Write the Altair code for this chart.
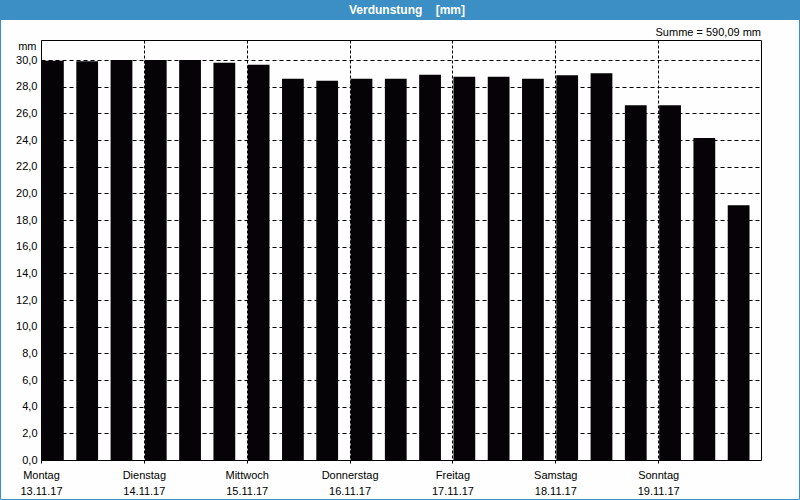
import altair as alt
import pandas as pd

# --- data -------------------------------------------------------------
values = [29.95, 29.9, 30.0, 30.0, 30.0, 29.8, 29.65,
          28.6, 28.45, 28.6, 28.6, 28.9, 28.75, 28.75,
          28.6, 28.85, 29.0, 26.6, 26.6, 24.15, 19.1]
day_names = ["Montag", "Dienstag", "Mittwoch", "Donnerstag",
             "Freitag", "Samstag", "Sonntag"]
day_dates = ["13.11.17", "14.11.17", "15.11.17", "16.11.17",
             "17.11.17", "18.11.17", "19.11.17"]
title_text = "Verdunstung\u00a0\u00a0\u00a0\u00a0[mm]"
sum_text = "Summe = 590,09 mm"
y_ticks = list(range(0, 31, 2))
day_ticks = [3 * k for k in range(len(day_names))]

df = pd.DataFrame({"slot": list(range(len(values))), "v": values})

W, H = 720, 420
PL, PT, PR, PB = 41, 40, 39, 40
FONT = "Liberation Sans"
BLUE = "#3c8fc4"

names_js = "[" + ",".join("'%s'" % d for d in day_names) + "]"
dates_js = "[" + ",".join("'%s'" % d for d in day_dates) + "]"
x_label_expr = "[%s[datum.value/3], %s[datum.value/3]]" % (names_js, dates_js)

bars = alt.Chart(df).transform_calculate(
    x0="datum.slot + 0.03", x1="datum.slot + 0.665"
).mark_rect(color="#050305").encode(
    x=alt.X("x0:Q",
            scale=alt.Scale(domain=[0, len(values)], nice=False, zero=False),
            axis=alt.Axis(values=day_ticks, title=None, grid=True,
                          gridDash=[3, 2], gridColor="black", gridOpacity=1,
                          tickSize=3, tickColor="black", domain=False,
                          labelExpr=x_label_expr, labelFlush=False,
                          labelOverlap=False, labelBound=False,
                          labelFont=FONT, labelFontSize=11, labelColor="black",
                          labelLineHeight=16, labelPadding=6,
                          labelBaseline="top")),
    x2="x1:Q",
    y=alt.Y("v:Q",
            scale=alt.Scale(domain=[0, 31.5], nice=False),
            axis=alt.Axis(values=y_ticks, title="mm", titleAngle=0,
                          titleAlign="right", titleBaseline="middle",
                          titleX=-5, titleY=6, titleFont=FONT,
                          titleFontSize=11, titleFontWeight="normal",
                          titleColor="black",
                          grid=True, gridDash=[4, 3], gridColor="black",
                          gridOpacity=1, ticks=False, domain=False,
                          labelExpr="replace(format(datum.value, '.1f'), '.', ',')",
                          labelFont=FONT, labelFontSize=11, labelColor="black",
                          labelPadding=4)),
    y2=alt.datum(0),
)

dummy = alt.Data(values=[{}])

title_bar = alt.Chart(dummy).mark_rect(color=BLUE).encode(
    x=alt.value(-PL), x2=alt.value(W + PR),
    y=alt.value(-PT), y2=alt.value(-PT + 20),
)
title = alt.Chart(dummy).mark_text(
    text=title_text, color="white", font=FONT, fontSize=12,
    fontWeight="bold", align="center", baseline="middle",
).encode(x=alt.value(407 - PL), y=alt.value(-PT + 10))

summe = alt.Chart(dummy).mark_text(
    text=sum_text, color="black", font=FONT, fontSize=11,
    align="right", baseline="middle",
).encode(x=alt.value(W), y=alt.value(-7))

border = alt.Chart(dummy).mark_rect(
    fill=None, stroke=BLUE, strokeWidth=1, fillOpacity=0
).encode(
    x=alt.value(-PL + 0.5), x2=alt.value(W + PR - 0.5),
    y=alt.value(-PT + 0.5), y2=alt.value(H + PB - 0.5),
)

chart = alt.layer(title_bar, title, summe, border, bars).properties(
    width=W, height=H,
    autosize=alt.AutoSizeParams(type="none"),
    padding={"left": PL, "top": PT, "right": PR, "bottom": PB},
    background="#fdfefd",
).configure_view(stroke="black", strokeWidth=1)

chart.save("out.html", embed_options={"renderer": "svg", "actions": False})
